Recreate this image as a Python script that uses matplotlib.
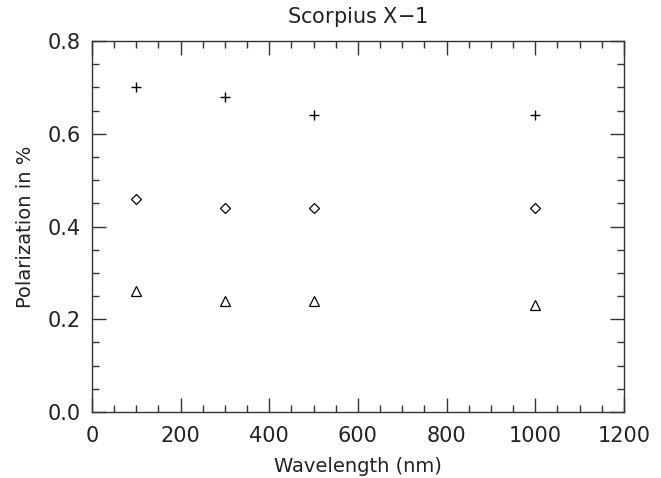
import matplotlib
matplotlib.use('Agg')
import matplotlib.pyplot as plt
from matplotlib.ticker import MultipleLocator

wavelength = [100, 300, 500, 1000]
pol_plus = [0.70, 0.68, 0.64, 0.64]
pol_diamond = [0.46, 0.44, 0.44, 0.44]
pol_triangle = [0.26, 0.24, 0.24, 0.23]

plt.rcParams['font.family'] = 'DejaVu Sans'
fig = plt.figure(figsize=(6.61, 4.78), dpi=100)
ax = fig.add_axes([0.139, 0.138, 0.805, 0.776])

ax.plot(wavelength, pol_plus, '+', color='k', ms=7, mew=1.0)
ax.plot(wavelength, pol_diamond, 'D', mfc='none', mec='k', ms=5, mew=0.9)
ax.plot(wavelength, pol_triangle, '^', mfc='none', mec='k', ms=7, mew=0.9)

ax.set_xlim(0, 1200)
ax.set_ylim(0, 0.8)
ax.xaxis.set_major_locator(MultipleLocator(200))
ax.xaxis.set_minor_locator(MultipleLocator(50))
ax.yaxis.set_major_locator(MultipleLocator(0.2))
ax.yaxis.set_minor_locator(MultipleLocator(0.05))
ax.yaxis.set_major_formatter(plt.FormatStrFormatter('%.1f'))
ax.tick_params(which='both', direction='in', top=True, right=True,
               labelsize=15, width=1.0, colors='#333333', labelcolor='#222222')
ax.tick_params(axis='x', which='major', pad=10)
ax.tick_params(axis='y', which='major', pad=8)
ax.tick_params(which='major', length=10)
ax.tick_params(which='minor', length=5)
for s in ax.spines.values():
    s.set_linewidth(1.0)
    s.set_color('#333333')

ax.set_xlabel('Wavelength (nm)', fontsize=14, labelpad=8, color='#222222')
ax.set_ylabel('Polarization in %', fontsize=14, labelpad=9, color='#222222')
ax.set_title('Scorpius X$-$1', fontsize=15, pad=13, color='#222222')

fig.savefig('out.png', dpi=100)
